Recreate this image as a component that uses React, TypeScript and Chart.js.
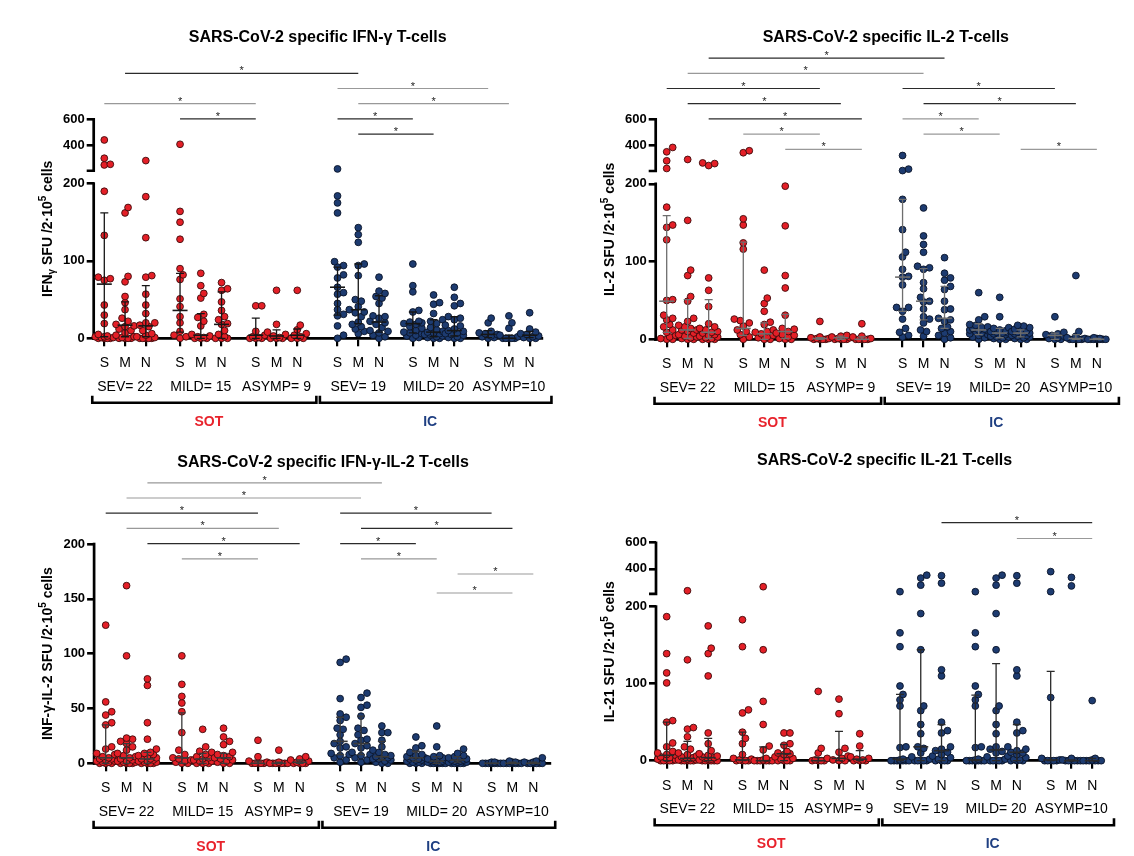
import { useEffect, useRef } from 'react';
import { Chart, registerables } from 'chart.js';

Chart.register(...registerables);

const FONT = "'Liberation Sans', Arial, Helvetica, sans-serif";
Chart.defaults.font.family = FONT;

// ---------- shared labels ----------
const antigenLabels = ['S', 'M', 'N'];
const cohortLabels = ['SOT', 'IC'];
const groupLabels = ['SEV= 22', 'MILD= 15', 'ASYMP= 9', 'SEV= 19', 'MILD= 20', 'ASYMP=10'];
const brokenTickLabels = [0, 100, 200, 400, 600];
const linearTickLabels = [0, 50, 100, 150, 200];

// ---------- IFN-γ (SFU / 2·10^5 cells), per group: [S, M, N] ----------
const ifnSotSev = [
  [443, 304, 258, 253, 190, 133, 79, 77, 75, 43, 30, 19, 5, 3, 2, 2, 1, 1, 0, 0, 0, 0],
  [169, 162, 80, 73, 54, 46, 37, 26, 22, 18, 16, 15, 12, 10, 7, 4, 2, 1, 0, 0, 0, 0],
  [286, 183, 130, 81, 79, 57, 43, 32, 20, 20, 17, 15, 10, 6, 4, 2, 1, 0, 0, 0, 0, 0],
];
const ifnSotMild = [
  [410, 164, 150, 128, 90, 82, 76, 51, 41, 28, 20, 9, 4, 2, 0],
  [84, 68, 58, 52, 31, 27, 22, 16, 5, 3, 2, 1, 0, 0, 0],
  [72, 64, 62, 47, 36, 28, 24, 19, 18, 10, 5, 2, 0, 0, 0],
];
const ifnSotAsymp = [
  [42, 42, 9, 4, 2, 1, 0, 0, 0],
  [62, 18, 8, 5, 3, 1, 0, 0, 0],
  [62, 17, 11, 6, 4, 2, 0, 0, 0],
];
const ifnIcSev = [
  [223, 184, 175, 162, 99, 94, 92, 82, 78, 66, 59, 57, 45, 37, 31, 29, 16, 4, 0],
  [143, 134, 124, 96, 94, 81, 50, 48, 41, 37, 34, 33, 28, 21, 18, 15, 12, 9, 6],
  [79, 61, 58, 54, 52, 45, 29, 28, 26, 22, 20, 18, 14, 10, 9, 7, 4, 2, 0],
];
const ifnIcMild = [
  [96, 68, 60, 36, 34, 22, 21, 20, 19, 18, 15, 13, 10, 8, 7, 6, 4, 3, 1, 0],
  [56, 46, 44, 32, 24, 22, 19, 14, 11, 9, 8, 7, 6, 5, 4, 3, 2, 1, 0, 0],
  [66, 53, 45, 42, 28, 26, 24, 17, 16, 12, 10, 9, 7, 6, 5, 4, 2, 1, 0, 0],
];
const ifnIcAsymp = [
  [26, 20, 9, 7, 6, 5, 3, 2, 1, 0],
  [29, 20, 13, 4, 2, 0, 0, 0, 0, 0],
  [33, 12, 8, 6, 5, 3, 2, 1, 0, 0],
];
const ifnMedian = [70, 17, 16, 36, 4, 18, 4, 3, 4, 66, 37, 21, 19, 8, 10, 5, 0, 4];
const ifnQ1 = [2, 2, 2, 8, 0, 0, 0, 0, 0, 30, 19, 8, 7, 2, 3, 1, 0, 1];
const ifnQ3 = [162, 47, 68, 84, 32, 60, 26, 11, 12, 92, 96, 55, 34, 24, 28, 10, 4, 9];
// comparisons: [from slot, to slot, row, dark?]
const ifnSig = [
  [1, 10, 5, 1], [0, 6, 3, 0], [3, 6, 2, 1],
  [9, 15, 4, 0], [10, 16, 3, 0], [9, 12, 2, 1], [10, 13, 1, 1],
];

// ---------- IL-2 ----------
const il2SotSev = [
  [387, 354, 286, 228, 170, 147, 144, 128, 51, 50, 31, 27, 25, 19, 16, 12, 9, 5, 3, 1, 0, 0],
  [296, 153, 89, 82, 55, 49, 27, 23, 18, 16, 14, 12, 12, 10, 8, 6, 4, 3, 2, 1, 0, 0],
  [270, 265, 250, 79, 63, 42, 20, 16, 14, 12, 10, 9, 8, 6, 5, 4, 3, 2, 1, 0, 0, 0],
];
const il2SotMild = [
  [362, 347, 155, 147, 124, 116, 26, 24, 21, 17, 12, 10, 6, 3, 0],
  [89, 53, 46, 36, 22, 19, 12, 10, 9, 7, 5, 3, 2, 0, 0],
  [197, 146, 82, 66, 31, 14, 13, 10, 8, 6, 5, 3, 1, 0, 0],
];
const il2SotAsymp = [
  [23, 3, 2, 1, 1, 0, 0, 0, 0],
  [5, 4, 3, 2, 1, 0, 0, 0, 0],
  [20, 4, 3, 1, 0, 0, 0, 0, 0],
];
const il2IcSev = [
  [326, 223, 212, 180, 141, 112, 106, 90, 81, 80, 70, 41, 41, 36, 26, 14, 9, 5, 3],
  [169, 133, 122, 112, 94, 92, 90, 73, 65, 54, 49, 48, 39, 29, 26, 21, 12, 10, 4],
  [105, 85, 79, 76, 68, 64, 49, 39, 38, 27, 25, 23, 16, 14, 10, 8, 5, 2, 0],
];
const il2IcMild = [
  [60, 29, 25, 19, 18, 16, 15, 14, 13, 12, 12, 11, 10, 8, 7, 6, 5, 3, 2, 0],
  [54, 29, 15, 14, 12, 11, 10, 9, 8, 8, 7, 6, 5, 4, 3, 3, 2, 1, 0, 0],
  [18, 17, 15, 13, 12, 11, 10, 9, 8, 8, 7, 6, 5, 5, 4, 3, 2, 1, 0, 0],
];
const il2IcAsymp = [
  [29, 9, 7, 6, 5, 4, 2, 1, 0, 0],
  [82, 10, 4, 2, 1, 0, 0, 0, 0, 0],
  [2, 1, 1, 0, 0, 0, 0, 0, 0, 0],
];
const il2Median = [49, 12, 9, 14, 7, 10, 1, 2, 0, 80, 49, 27, 12, 8, 8, 5, 1, 0];
const il2Q1 = [9, 1, 1, 5, 0, 1, 0, 0, 0, 36, 25, 14, 6, 2, 3, 0, 0, 0];
const il2Q3 = [159, 51, 51, 125, 21, 32, 2, 4, 3, 180, 91, 68, 20, 14, 12, 8, 6, 1];
const il2Sig = [
  [2, 11, 6, 1], [1, 10, 5, 0], [0, 6, 4, 1], [1, 7, 3, 1], [2, 8, 2, 1], [3, 6, 1, 0], [5, 8, 0, 0],
  [9, 15, 4, 1], [10, 16, 3, 1], [9, 12, 2, 0], [10, 13, 1, 0], [14, 17, 0, 0],
];

// ---------- IFN-γ-IL-2 ----------
const dualSotSev = [
  [126, 56, 47, 44, 37, 35, 15, 13, 9, 8, 6, 5, 4, 4, 3, 2, 2, 1, 1, 0, 0, 0],
  [162, 98, 23, 22, 20, 18, 15, 12, 9, 7, 6, 5, 4, 3, 2, 2, 1, 1, 0, 0, 0, 0],
  [77, 71, 37, 22, 13, 10, 9, 8, 7, 6, 5, 4, 4, 3, 2, 2, 1, 1, 0, 0, 0, 0],
];
const dualSotMild = [
  [98, 72, 61, 55, 47, 28, 12, 8, 5, 4, 3, 2, 1, 0, 0],
  [31, 15, 11, 10, 8, 6, 5, 4, 3, 2, 2, 1, 0, 0, 0],
  [32, 24, 20, 17, 10, 8, 7, 6, 5, 4, 3, 2, 1, 0, 0],
];
const dualSotAsymp = [
  [21, 6, 2, 1, 0, 0, 0, 0, 0],
  [12, 1, 0, 0, 0, 0, 0, 0, 0],
  [6, 4, 3, 2, 1, 0, 0, 0, 0],
];
const dualIcSev = [
  [95, 92, 59, 45, 42, 39, 32, 31, 26, 20, 18, 15, 14, 9, 8, 7, 5, 3, 1],
  [64, 60, 53, 51, 43, 32, 30, 26, 22, 21, 18, 16, 14, 10, 8, 7, 5, 3, 1],
  [34, 28, 28, 21, 15, 12, 10, 8, 7, 6, 6, 5, 4, 4, 3, 2, 1, 0, 0],
];
const dualIcMild = [
  [24, 16, 14, 10, 8, 7, 6, 5, 5, 4, 4, 3, 3, 2, 2, 1, 1, 0, 0, 0],
  [34, 15, 7, 6, 5, 4, 4, 3, 3, 2, 2, 1, 1, 1, 0, 0, 0, 0, 0, 0],
  [13, 9, 7, 6, 5, 5, 4, 4, 3, 3, 2, 2, 1, 1, 1, 0, 0, 0, 0, 0],
];
const dualIcAsymp = [
  [1, 1, 0, 0, 0, 0, 0, 0, 0, 0],
  [2, 1, 1, 0, 0, 0, 0, 0, 0, 0],
  [5, 2, 1, 1, 0, 0, 0, 0, 0, 0],
];
const dualMedian = [5, 5, 4, 5, 4, 5, 0, 0, 1, 20, 18, 6, 5, 2, 3, 0, 0, 0];
const dualQ1 = [0, 0, 0, 0, 0, 0, 0, 0, 0, 8, 8, 3, 2, 0, 1, 0, 0, 0];
const dualQ3 = [35, 18, 10, 46, 9, 9, 2, 1, 3, 42, 43, 20, 11, 6, 6, 0, 1, 1];
const dualSig = [
  [2, 11, 6, 0], [1, 10, 5, 0], [0, 6, 4, 1], [1, 7, 3, 0], [2, 8, 2, 1], [3, 6, 1, 0],
  [9, 15, 4, 1], [10, 16, 3, 1], [9, 12, 2, 1], [10, 13, 1, 0], [14, 17, 0, 0], [13, 16, -1.25, 0],
];

// ---------- IL-21 ----------
const il21SotSev = [
  [187, 139, 114, 101, 52, 50, 23, 18, 12, 10, 8, 7, 5, 4, 3, 2, 1, 0, 0, 0, 0, 0],
  [233, 131, 43, 41, 31, 18, 15, 10, 8, 6, 5, 4, 3, 3, 2, 1, 1, 0, 0, 0, 0, 0],
  [175, 146, 139, 110, 36, 22, 13, 9, 7, 6, 5, 4, 3, 2, 2, 1, 0, 0, 0, 0, 0, 0],
];
const il21SotMild = [
  [183, 148, 66, 62, 37, 29, 22, 8, 3, 2, 1, 0, 0, 0, 0],
  [264, 144, 77, 47, 19, 14, 3, 1, 0, 0, 0, 0, 0, 0, 0],
  [36, 36, 22, 20, 12, 10, 9, 8, 5, 3, 2, 0, 0, 0, 0],
];
const il21SotAsymp = [
  [90, 16, 10, 3, 1, 0, 0, 0, 0],
  [80, 61, 16, 11, 6, 3, 1, 0, 0],
  [35, 19, 5, 3, 2, 1, 0, 0, 0],
];
const il21IcSev = [
  [226, 166, 148, 97, 86, 79, 71, 18, 17, 2, 1, 0, 0, 0, 0, 0, 0, 0, 0],
  [352, 330, 276, 191, 144, 71, 65, 47, 35, 18, 16, 10, 5, 2, 0, 0, 0, 0, 0],
  [348, 291, 118, 110, 50, 39, 36, 18, 15, 13, 11, 8, 6, 4, 2, 0, 0, 0, 0],
];
const il21IcMild = [
  [226, 166, 148, 97, 86, 79, 71, 18, 17, 2, 1, 0, 0, 0, 0, 0, 0, 0, 0, 0],
  [352, 330, 276, 191, 144, 71, 65, 47, 35, 18, 15, 12, 10, 5, 2, 0, 0, 0, 0, 0],
  [348, 291, 118, 110, 50, 39, 36, 18, 15, 13, 11, 10, 8, 6, 4, 2, 1, 0, 0, 0],
];
const il21IcAsymp = [
  [379, 226, 82, 3, 1, 0, 0, 0, 0, 0],
  [335, 270, 3, 1, 0, 0, 0, 0, 0, 0],
  [78, 3, 1, 0, 0, 0, 0, 0, 0, 0],
];
const il21Median = [7, 3, 4, 1, 0, 9, 0, 3, 2, 2, 18, 13, 1, 14, 11, 1, 0, 0];
const il21Q1 = [0, 0, 0, 0, 0, 0, 0, 0, 0, 0, 0, 0, 0, 0, 0, 0, 0, 0];
const il21Q3 = [50, 25, 29, 37, 18, 21, 4, 38, 13, 86, 144, 47, 85, 126, 47, 116, 1, 3];
const il21Sig = [
  [11, 17, 3.3, 1], [14, 17, 2.25, 0],
];

// ---------- layout ----------
const CANVAS_W = 567;
const CANVAS_H = 428;
const Y_AXIS_W = 60;
const X_AXIS_H = 40;
const GROUP_START = [0, 3.65, 7.3, 11.24, 14.87, 18.5];
const SLOTS = GROUP_START.flatMap((g) => [g, g + 1, g + 2]);
const RED = '#e41f27';
const BLUE = '#1d3b70';
const SOT_TEXT = '#e8232c';
const IC_TEXT = '#1f3f82';

// Broken value axis: 0-200 linear, then 200-600 compressed above a gap.
const brk = (v: number) => (v <= 205 ? v : 249 + (v - 400) * 0.17);
const BREAK_CAP = 216.5;
const BROKEN_MAX = brk(600);

type Part = [string, ('sub' | 'sup')?];

const PANELS = [
  {
    title: 'SARS-CoV-2 specific IFN-γ T-cells',
    yTitle: [['IFN'], ['γ', 'sub'], [' SFU /2·10'], ['5', 'sup'], [' cells']] as Part[],
    groups: [ifnSotSev, ifnSotMild, ifnSotAsymp, ifnIcSev, ifnIcMild, ifnIcAsymp],
    median: ifnMedian, q1: ifnQ1, q3: ifnQ3, sig: ifnSig,
    broken: true, pos: [0, 0],
    area: { l: 93.7, r: 541.7, t: 119.3, b: 338.3 }, xMin: -0.511, xMax: 21.08,
    titleDx: 0, barColor: '#161616',
  },
  {
    title: 'SARS-CoV-2 specific IL-2 T-cells',
    yTitle: [['IL-2 SFU /2·10'], ['5', 'sup'], [' cells']] as Part[],
    groups: [il2SotSev, il2SotMild, il2SotAsymp, il2IcSev, il2IcMild, il2IcAsymp],
    median: il2Median, q1: il2Q1, q3: il2Q3, sig: il2Sig,
    broken: true, pos: [567, 0],
    area: { l: 88.7, r: 537, t: 119.3, b: 339.3 }, xMin: -0.524, xMax: 20.84,
    titleDx: 6, barColor: '#6e6e6e',
  },
  {
    title: 'SARS-CoV-2 specific IFN-γ-IL-2 T-cells',
    yTitle: [['INF-γ-IL-2 SFU /2·10'], ['5', 'sup'], [' cells']] as Part[],
    groups: [dualSotSev, dualSotMild, dualSotAsymp, dualIcSev, dualIcMild, dualIcAsymp],
    median: dualMedian, q1: dualQ1, q3: dualQ3, sig: dualSig,
    broken: false, pos: [0, 428],
    area: { l: 94.1, r: 550, t: 116, b: 335.3 }, xMin: -0.556, xMax: 21.3,
    titleDx: 1, barColor: '#3a3a3a',
  },
  {
    title: 'SARS-CoV-2 specific IL-21 T-cells',
    yTitle: [['IL-21 SFU /2·10'], ['5', 'sup'], [' cells']] as Part[],
    groups: [il21SotSev, il21SotMild, il21SotAsymp, il21IcSev, il21IcMild, il21IcAsymp],
    median: il21Median, q1: il21Q1, q3: il21Q3, sig: il21Sig,
    broken: true, pos: [567, 428],
    area: { l: 89, r: 536.2, t: 114.7, b: 332.7 }, xMin: -0.515, xMax: 21.03,
    titleDx: 5, barColor: '#2a2a2a',
  },
];

type Spec = (typeof PANELS)[number];

// Spread points of one column sideways so that close values stay visible.
function swarm(values: number[], slot: number, unitPx: number, yPx: number, map: (v: number) => number) {
  const items = values.map((v) => ({ y: map(v), py: map(v) * yPx })).sort((a, b) => a.py - b.py);
  const placed: { dx: number; py: number; y: number }[] = [];
  const STEP = 3.0;
  const MIN_D = 5.5;
  const K = 3;
  for (const it of items) {
    let best = 0;
    let bestScore = -1;
    for (let j = 0; j <= 2 * K; j++) {
      const k = j === 0 ? 0 : j % 2 ? (j + 1) / 2 : -j / 2;
      const dx = k * STEP;
      let d = Infinity;
      for (const p of placed) d = Math.min(d, Math.hypot(p.dx - dx, p.py - it.py));
      if (d >= MIN_D) {
        best = dx;
        break;
      }
      if (d > bestScore) {
        bestScore = d;
        best = dx;
      }
    }
    placed.push({ dx: best, py: it.py, y: it.y });
  }
  return placed.map((p) => ({ x: slot + p.dx / unitPx, y: p.y }));
}

function drawRich(ctx: CanvasRenderingContext2D, parts: Part[], cx: number, cy: number) {
  const big = `bold 14px ${FONT}`;
  const small = `bold 10px ${FONT}`;
  let total = 0;
  const widths = parts.map(([t, k]) => {
    ctx.font = k ? small : big;
    const w = ctx.measureText(t).width;
    total += w;
    return w;
  });
  ctx.save();
  ctx.translate(cx, cy);
  ctx.rotate(-Math.PI / 2);
  ctx.textBaseline = 'alphabetic';
  ctx.textAlign = 'left';
  ctx.fillStyle = '#000';
  let x = -total / 2;
  parts.forEach(([t, k], i) => {
    ctx.font = k ? small : big;
    const dy = k === 'sub' ? 3 : k === 'sup' ? -6 : 0;
    ctx.fillText(t, x, 5 + dy);
    x += widths[i];
  });
  ctx.restore();
}

function decorations(p: Spec) {
  const f = p.broken ? brk : (v: number) => v;
  const yMax = p.broken ? BROKEN_MAX : 200;
  return {
    id: 'decorations',
    beforeDatasetsDraw(chart: any) {
      const { ctx, chartArea: a } = chart;
      const ys = chart.scales.y;
      ctx.save();
      ctx.strokeStyle = '#000';
      ctx.lineWidth = 2.7;
      ctx.beginPath();
      if (p.broken) {
        ctx.moveTo(a.left, a.bottom + 1.35);
        ctx.lineTo(a.left, ys.getPixelForValue(200) - 1.3);
        const capY = ys.getPixelForValue(BREAK_CAP);
        ctx.moveTo(a.left, ys.getPixelForValue(yMax) - 1.3);
        ctx.lineTo(a.left, capY);
        ctx.lineTo(a.left - 7, capY);
      } else {
        ctx.moveTo(a.left, a.bottom + 1.35);
        ctx.lineTo(a.left, a.top - 1.3);
      }
      ctx.stroke();
      ctx.restore();
    },
    afterDatasetsDraw(chart: any) {
      const { ctx } = chart;
      const xs = chart.scales.x;
      const ys = chart.scales.y;
      ctx.save();
      ctx.strokeStyle = p.barColor;
      SLOTS.forEach((s, i) => {
        const px = xs.getPixelForValue(s);
        const y1 = ys.getPixelForValue(f(p.q1[i]));
        const y3 = ys.getPixelForValue(f(p.q3[i]));
        const ym = ys.getPixelForValue(f(p.median[i]));
        ctx.lineWidth = 1.3;
        ctx.beginPath();
        ctx.moveTo(px, y1);
        ctx.lineTo(px, y3);
        ctx.moveTo(px - 4, y1);
        ctx.lineTo(px + 4, y1);
        ctx.moveTo(px - 4, y3);
        ctx.lineTo(px + 4, y3);
        ctx.stroke();
        ctx.lineWidth = 1.6;
        ctx.beginPath();
        ctx.moveTo(px - 7.5, ym);
        ctx.lineTo(px + 7.5, ym);
        ctx.stroke();
      });
      ctx.restore();
    },
    afterDraw(chart: any) {
      const { ctx, chartArea: a } = chart;
      const xs = chart.scales.x;
      const ys = chart.scales.y;
      const topPx = ys.getPixelForValue(yMax);
      const px = (v: number) => xs.getPixelForValue(v);
      ctx.save();

      // title
      ctx.fillStyle = '#000';
      ctx.font = `bold 16px ${FONT}`;
      ctx.textAlign = 'center';
      ctx.textBaseline = 'middle';
      ctx.fillText(p.title, (a.left + a.right) / 2 + p.titleDx, topPx - 81.7);

      // value axis title
      drawRich(ctx, p.yTitle, a.left - 47, (a.top + a.bottom) / 2);

      // severity group labels
      ctx.font = `14px ${FONT}`;
      ctx.fillStyle = '#000';
      ctx.textAlign = 'center';
      ctx.textBaseline = 'middle';
      groupLabels.forEach((g, i) => ctx.fillText(g, px(SLOTS[i * 3 + 1]), a.bottom + 48.5));

      // cohort brackets
      const by = a.bottom + 64.5;
      const brackets = [
        [SLOTS[0] - 0.58, SLOTS[8] + 0.92],
        [SLOTS[9] - 0.85, SLOTS[17] + 1.05],
      ];
      ctx.strokeStyle = '#000';
      ctx.lineWidth = 2.6;
      brackets.forEach(([l, r], i) => {
        const L = px(l);
        const R = px(r);
        ctx.beginPath();
        ctx.moveTo(L, by - 7);
        ctx.lineTo(L, by);
        ctx.lineTo(R, by);
        ctx.lineTo(R, by - 7);
        ctx.stroke();
        ctx.font = `bold 14px ${FONT}`;
        ctx.fillStyle = i === 0 ? SOT_TEXT : IC_TEXT;
        ctx.fillText(cohortLabels[i], (L + R) / 2 + (i === 0 ? 4.5 : -5.5), a.bottom + 83.7);
      });

      // significance bars
      p.sig.forEach(([from, to, row, dark]) => {
        const yy = topPx + 30 - 15.2 * row;
        const x1 = px(SLOTS[from]);
        const x2 = px(SLOTS[to]);
        ctx.strokeStyle = dark ? '#2b2b2b' : '#999999';
        ctx.lineWidth = 1.2;
        ctx.beginPath();
        ctx.moveTo(x1, yy);
        ctx.lineTo(x2, yy);
        ctx.stroke();
        ctx.fillStyle = '#222';
        ctx.font = `11px ${FONT}`;
        ctx.textBaseline = 'middle';
        ctx.fillText('*', (x1 + x2) / 2, yy - 2);
      });
      ctx.restore();
    },
  };
}

function buildConfig(p: Spec): any {
  const yMax = p.broken ? BROKEN_MAX : 200;
  const f = p.broken ? brk : (v: number) => v;
  const tickLabels = p.broken ? brokenTickLabels : linearTickLabels;
  const unitPx = (p.area.r - p.area.l) / (p.xMax - p.xMin);
  const yPx = (p.area.b - p.area.t) / yMax;

  const datasets = [0, 1].map((c) => {
    const data: { x: number; y: number }[] = [];
    p.groups.slice(c * 3, c * 3 + 3).forEach((group, gi) => {
      group.forEach((vals, ai) => {
        const slot = SLOTS[(c * 3 + gi) * 3 + ai];
        data.push(...swarm(vals, slot, unitPx, yPx, f));
      });
    });
    return {
      label: cohortLabels[c],
      data,
      backgroundColor: c === 0 ? RED : BLUE,
      borderColor: c === 0 ? '#3d0c0c' : '#0a1428',
      borderWidth: 0.9,
      pointRadius: 3.4,
      clip: false,
      showLine: false,
    };
  });

  return {
    type: 'scatter',
    data: { datasets },
    options: {
      animation: false,
      responsive: false,
      events: [],
      layout: {
        autoPadding: false,
        padding: {
          left: p.area.l - Y_AXIS_W,
          right: CANVAS_W - p.area.r,
          top: p.area.t,
          bottom: CANVAS_H - p.area.b - X_AXIS_H,
        },
      },
      plugins: { legend: { display: false }, tooltip: { enabled: false }, title: { display: false } },
      scales: {
        x: {
          type: 'linear',
          min: p.xMin,
          max: p.xMax,
          bounds: 'data',
          afterBuildTicks: (s: any) => {
            s.ticks = SLOTS.map((v) => ({ value: v }));
          },
          afterFit: (s: any) => {
            s.height = X_AXIS_H;
            s.paddingLeft = 0;
            s.paddingRight = 0;
          },
          ticks: {
            autoSkip: false,
            maxRotation: 0,
            padding: 8.6,
            color: '#000',
            font: { size: 14 },
            callback: (_v: number, i: number) => antigenLabels[i % 3],
          },
          grid: {
            drawOnChartArea: false,
            drawTicks: true,
            tickLength: 8,
            lineWidth: 2.2,
            tickWidth: 2.2,
            color: '#000',
            tickColor: '#000',
          },
          border: { display: true, width: 2.7, color: '#000' },
        },
        y: {
          type: 'linear',
          min: 0,
          max: yMax,
          bounds: 'data',
          afterBuildTicks: (s: any) => {
            s.ticks = tickLabels.map((v) => ({ value: f(v) }));
          },
          afterFit: (s: any) => {
            s.width = Y_AXIS_W;
            s.paddingTop = 0;
            s.paddingBottom = 0;
          },
          ticks: {
            autoSkip: false,
            padding: 2,
            color: '#000',
            font: { size: 13, weight: 'bold' },
            callback: (_v: number, i: number) => String(tickLabels[i]),
          },
          grid: {
            drawOnChartArea: false,
            drawTicks: true,
            tickLength: 7,
            lineWidth: 2.6,
            tickWidth: 2.6,
            color: '#000',
            tickColor: '#000',
          },
          border: { display: false },
        },
      },
    },
    plugins: [decorations(p)],
  };
}

function Panel({ spec }: { spec: Spec }) {
  const ref = useRef<HTMLCanvasElement>(null);
  useEffect(() => {
    if (!ref.current) return;
    const chart = new Chart(ref.current, buildConfig(spec));
    return () => chart.destroy();
  }, [spec]);
  return (
    <canvas
      ref={ref}
      width={CANVAS_W}
      height={CANVAS_H}
      style={{ position: 'absolute', left: spec.pos[0], top: spec.pos[1], width: CANVAS_W, height: CANVAS_H }}
    />
  );
}

export default function App() {
  return (
    <div style={{ position: 'absolute', left: 0, top: 0, width: 1134, height: 856, background: '#fff' }}>
      {PANELS.map((p, i) => (
        <Panel key={i} spec={p} />
      ))}
    </div>
  );
}
